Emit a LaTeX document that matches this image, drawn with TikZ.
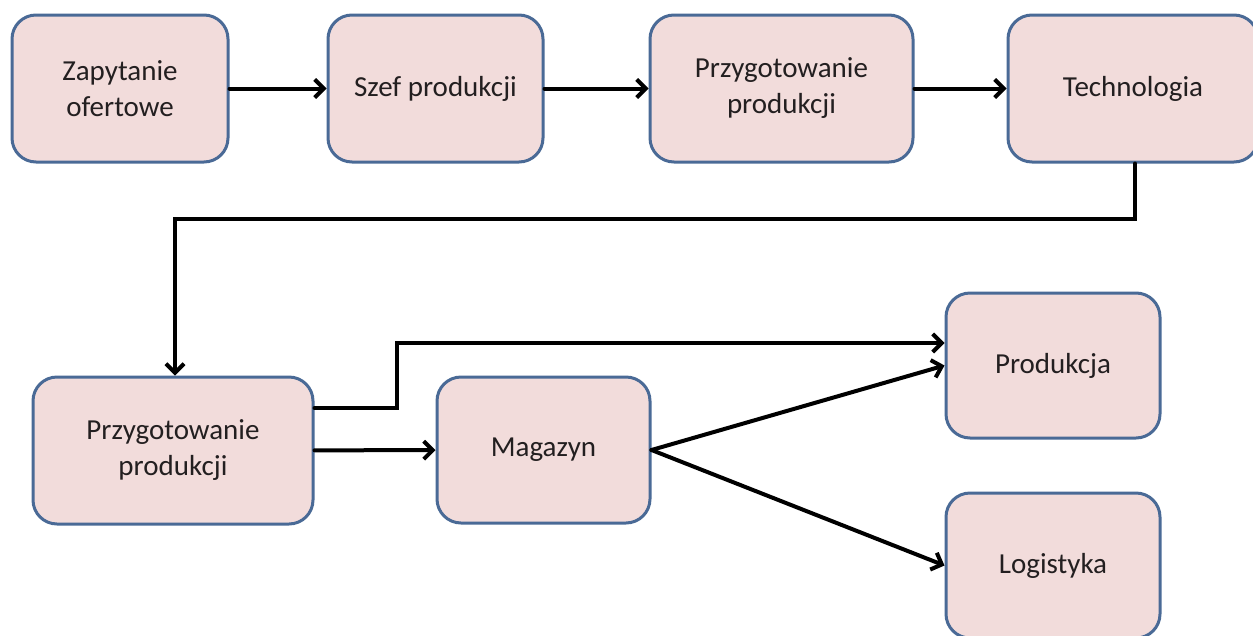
\documentclass[tikz,border=0pt]{standalone}
\usepackage{fontspec}
\setmainfont{Carlito}
\usetikzlibrary{arrows.meta}
\definecolor{boxfill}{HTML}{F2DCDB}
\definecolor{boxline}{HTML}{4A6A96}
\definecolor{txt}{HTML}{231F20}
\begin{document}
\begin{tikzpicture}[x=1pt,y=-1pt,
  box/.style={draw=boxline, line width=3pt, fill=boxfill, rounded corners=24pt,
    minimum height=147pt, align=center, text=txt,
    font=\fontsize{29}{36}\selectfont, inner sep=0pt},
  conn/.style={draw=black, line width=4pt, line cap=round, line join=miter,
    -{Straight Barb[length=9pt,width=18pt,line width=4pt]}},
  plain/.style={draw=black, line width=4pt, line join=miter}]
\useasboundingbox (0,0) rectangle (1253,635);
\node[box, minimum width=216pt] (n1) at (120,88.5) {Zapytanie\\ofertowe};
\node[box, minimum width=215pt] (n2) at (435.5,88.5) {Szef produkcji};
\node[box, minimum width=263pt] (n3) at (781.5,88.5) {Przygotowanie\\produkcji};
\node[box, minimum width=250pt] (n4) at (1133,88.5) {Technologia};
\node[box, minimum width=280pt] (n5) at (173,450.5) {Przygotowanie\\produkcji};
\node[box, minimum width=213pt, minimum height=146pt] (n6) at (543.5,450) {Magazyn};
\node[box, minimum width=214pt, minimum height=145pt] (n7) at (1053,365.5) {Produkcja};
\node[box, minimum width=214pt, minimum height=145pt] (n8) at (1053,565.5) {Logistyka};
\draw[conn] (n1) -- (n2);
\draw[conn] (n2) -- (n3);
\draw[conn] (n3) -- (n4);
\coordinate (c1) at (1135,219);
\coordinate (c2) at (175,219);
\draw[conn] (n4.south -| c1) -- (c1) -- (c2) -- (c2 |- n5.north);
\coordinate (c3) at (397,408);
\draw[conn] (c3 -| n5.east) -- (c3) |- ([yshift=22.5pt]n7.west);
\draw[conn] (n5) -- (n6);
\draw[conn] (n6.east) -- (n7.west);
\draw[conn] (n6.east) -- (n8.west);
\end{tikzpicture}
\end{document}
